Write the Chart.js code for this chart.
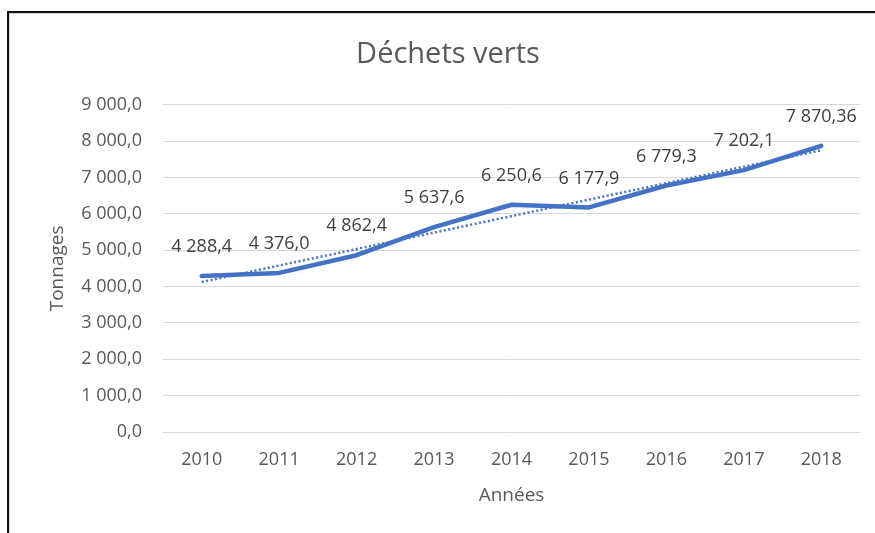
<!DOCTYPE html>
<html>
<head>
<meta charset="utf-8">
<script src="https://cdn.jsdelivr.net/npm/chart.js@4"></script>
<style>
  html, body { margin: 0; padding: 0; background: #ffffff; }
  #wrap { position: relative; width: 875px; height: 533px; overflow: hidden; background: #fff; }
  #frame { position: absolute; left: 7px; top: 11px; width: 900px; height: 560px;
           border-left: 2px solid #111; border-top: 2px solid #111;
           box-shadow: inset 1px 1px 0 #d6d6d6; }
  canvas { position: absolute; left: 0; top: 0; }
</style>
</head>
<body>
<div id="wrap">
  <div id="frame"></div>
  <canvas id="c" width="875" height="533"></canvas>
</div>
<script>
// ---- Data ----
const years = ['2010', '2011', '2012', '2013', '2014', '2015', '2016', '2017', '2018'];
const tonnages = [4288.4, 4376.0, 4862.4, 5637.6, 6250.6, 6177.9, 6779.3, 7202.1, 7870.36];
// linear trendline (Excel), endpoints
const trendline = [4126, null, null, null, null, null, null, null, 7750];
const yTicks = [0, 1000, 2000, 3000, 4000, 5000, 6000, 7000, 8000, 9000];

const chartTitle = 'Déchets verts';
const xTitle = 'Années';
const yTitle = 'Tonnages';

function fmt(v, dec) {
  const s = v.toFixed(dec);
  const parts = s.split('.');
  const intPart = parts[0].replace(/\B(?=(\d{3})+(?!\d))/g, ' ');
  return parts.length > 1 ? intPart + ',' + parts[1] : intPart;
}
function labelFmt(v) {
  const str = String(v);
  const dec = str.includes('.') ? str.split('.')[1].length : 1;
  return fmt(v, Math.max(1, dec));
}

const valueLabels = {
  id: 'valueLabels',
  afterDatasetsDraw(chart) {
    const ctx = chart.ctx;
    const meta = chart.getDatasetMeta(0);
    ctx.save();
    ctx.font = '18px "Open Sans"';
    ctx.fillStyle = '#404040';
    ctx.textAlign = 'center';
    ctx.textBaseline = 'middle';
    meta.data.forEach((pt, i) => {
      ctx.fillText(labelFmt(tonnages[i]), pt.x, pt.y - 29);
    });
    ctx.restore();
  }
};

const textColor = '#595959';

new Chart(document.getElementById('c'), {
  type: 'line',
  data: {
    labels: years,
    datasets: [
      {
        data: tonnages,
        borderColor: '#4472C4',
        borderWidth: 4.5,
        pointRadius: 0,
        tension: 0,
        fill: false,
        borderCapStyle: 'round',
        borderJoinStyle: 'round',
        order: 1
      },
      {
        data: trendline,
        borderColor: '#4472C4',
        borderWidth: 2.5,
        borderDash: [2, 2.5],
        pointRadius: 0,
        spanGaps: true,
        fill: false,
        order: 0
      }
    ]
  },
  options: {
    responsive: false,
    animation: false,
    devicePixelRatio: 1,
    layout: { padding: { left: 36, right: 15, top: 0, bottom: 23 } },
    plugins: {
      legend: { display: false },
      tooltip: { enabled: false },
      title: {
        display: true,
        text: chartTitle,
        color: textColor,
        font: { family: '"Open Sans"', size: 29, weight: 'normal' },
        padding: { top: 37, bottom: 33 }
      }
    },
    scales: {
      x: {
        type: 'category',
        offset: true,
        grid: { display: false },
        border: { display: false },
        ticks: { color: textColor, font: { family: '"Open Sans"', size: 18 }, padding: 9, maxRotation: 0 },
        title: { display: true, text: xTitle, color: textColor,
                 font: { family: '"Open Sans"', size: 19 }, padding: { top: 4, bottom: 3 } },
        afterFit: (s) => { s.height = 78; }
      },
      y: {
        min: 0,
        max: 9000,
        afterBuildTicks: (s) => { s.ticks = yTicks.map(v => ({ value: v })); },
        grid: { color: '#d9d9d9', lineWidth: 1, drawTicks: false },
        border: { display: false },
        ticks: { color: textColor, font: { family: '"Open Sans"', size: 18 }, padding: 21,
                 callback: (v) => fmt(v, 1) },
        title: { display: true, text: yTitle, color: textColor,
                 font: { family: '"Open Sans"', size: 19 }, padding: { top: 10, bottom: 4 } },
        afterFit: (s) => { s.width = 127; }
      }
    }
  },
  plugins: [valueLabels]
});
</script>
</body>
</html>
